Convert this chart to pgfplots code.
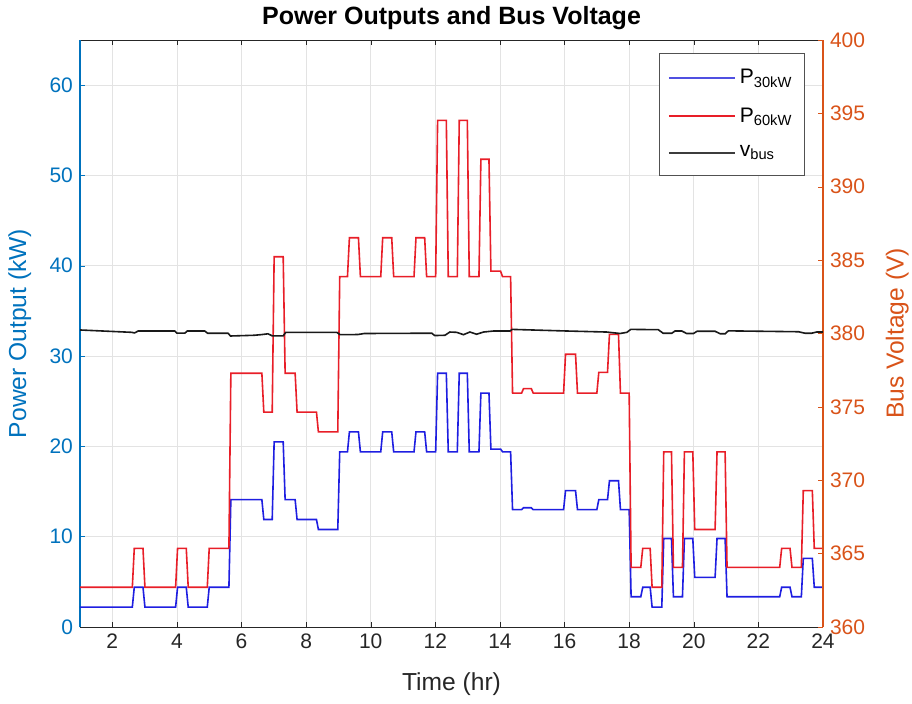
\documentclass[border=0pt]{standalone}
\usepackage{pgfplots}
\pgfplotsset{compat=1.18}
\usepackage{fontspec}
\setmainfont{Liberation Sans}
\definecolor{mblue}{RGB}{0,114,189}
\definecolor{morange}{RGB}{217,83,25}
\definecolor{axgray}{RGB}{38,38,38}
\definecolor{lineblue}{RGB}{30,30,225}
\definecolor{legblue}{RGB}{80,80,225}
\definecolor{linered}{RGB}{232,30,40}
\definecolor{lineblack}{RGB}{25,25,25}
\begin{document}
\begin{tikzpicture}
\useasboundingbox (-40pt,-38pt) rectangle (416pt,313.5pt);
\pgfplotsset{
  every axis title shift=0pt,
  common/.style={
    scale only axis, width=371.5pt, height=293.5pt,
    at={(0,0)}, anchor=south west,
    xmin=1, xmax=24,
    tick align=inside,
    major tick length=2.5pt,
    /pgf/number format/assume math mode=true,
    ticklabel style={font=\fontsize{10.5}{12}\selectfont},
    label style={font=\fontsize{12.3}{14}\selectfont},
  }
}
\begin{axis}[common,
  ymin=0, ymax=65,
  ytick={0,10,...,60},
  xtick={2,4,...,24},
  axis y line*=left,
  xtick pos=both,
  x axis line style={color=axgray},
  y axis line style={color=mblue, line width=0.7pt},
  x tick style={color=axgray},
  y tick style={color=mblue},
  yticklabel style={text=mblue},
  xticklabel style={text=axgray},
  grid=major,
  major grid style={color=black!11, line width=0.4pt},
  xlabel={Time (hr)},
  xlabel style={text=axgray, at={(axis description cs:0.5,0)}, anchor=center, yshift=-28.5pt},
  ylabel={Power Output (kW)},
  ylabel style={text=mblue, at={(axis description cs:-0.081,0.5)}, anchor=center},
  title={\bfseries Power Outputs and Bus Voltage},
  title style={font=\fontsize{12.5}{14}\selectfont, text=black, at={(axis description cs:0.5,1)}, anchor=center, yshift=11pt},
]
\addplot[color=lineblue, line width=0.8pt] coordinates {
(1,2.2)
(2.62,2.2)(2.68,4.4)
(2.95,4.4)(3.01,2.2)
(3.96,2.2)(4.02,4.4)
(4.29,4.4)(4.35,2.2)
(4.94,2.2)(5.00,4.4)
(5.61,4.4)(5.67,14.1)
(6.63,14.1)(6.69,11.9)
(6.95,11.9)(7.01,20.5)
(7.29,20.5)(7.35,14.1)
(7.66,14.1)(7.72,11.9)
(8.32,11.9)(8.38,10.8)
(8.98,10.8)(9.04,19.4)
(9.28,19.4)(9.34,21.6)
(9.62,21.6)(9.68,19.4)
(10.31,19.4)(10.37,21.6)
(10.65,21.6)(10.71,19.4)
(11.34,19.4)(11.40,21.6)
(11.67,21.6)(11.73,19.4)
(12.01,19.4)(12.07,28.1)
(12.34,28.1)(12.40,19.4)
(12.68,19.4)(12.74,28.1)
(12.99,28.1)(13.05,19.4)
(13.35,19.4)(13.41,25.9)
(13.66,25.9)(13.72,19.7)
(14.02,19.7)(14.08,19.4)
(14.33,19.4)(14.39,13.0)
(14.67,13.0)(14.73,13.2)
(14.97,13.2)(15.03,13.0)
(15.97,13.0)(16.03,15.1)
(16.34,15.1)(16.40,13.0)
(17.00,13.0)(17.06,14.1)
(17.33,14.1)(17.39,16.2)
(17.67,16.2)(17.73,13.0)
(18.00,13.0)(18.06,3.35)
(18.36,3.35)(18.42,4.4)
(18.65,4.4)(18.71,2.2)
(19.01,2.2)(19.07,9.8)
(19.31,9.8)(19.37,3.35)
(19.65,3.35)(19.71,9.8)
(19.97,9.8)(20.03,5.5)
(20.66,5.5)(20.72,9.8)
(20.97,9.8)(21.03,3.35)
(22.66,3.35)(22.72,4.4)
(22.98,4.4)(23.04,3.35)
(23.33,3.35)(23.39,7.6)
(23.67,7.6)(23.73,4.4)
(24,4.4)
};
\addplot[color=linered, line width=0.8pt] coordinates {
(1,4.4)
(2.62,4.4)(2.68,8.7)
(2.95,8.7)(3.01,4.4)
(3.96,4.4)(4.02,8.7)
(4.29,8.7)(4.35,4.4)
(4.94,4.4)(5.00,8.7)
(5.61,8.7)(5.67,28.1)
(6.63,28.1)(6.69,23.8)
(6.95,23.8)(7.01,41.0)
(7.29,41.0)(7.35,28.1)
(7.66,28.1)(7.72,23.8)
(8.32,23.8)(8.38,21.6)
(8.98,21.6)(9.04,38.8)
(9.28,38.8)(9.34,43.1)
(9.62,43.1)(9.68,38.8)
(10.31,38.8)(10.37,43.1)
(10.65,43.1)(10.71,38.8)
(11.34,38.8)(11.40,43.1)
(11.67,43.1)(11.73,38.8)
(12.01,38.8)(12.07,56.1)
(12.34,56.1)(12.40,38.8)
(12.68,38.8)(12.74,56.1)
(12.99,56.1)(13.05,38.8)
(13.35,38.8)(13.41,51.8)
(13.66,51.8)(13.72,39.4)
(14.02,39.4)(14.08,38.8)
(14.33,38.8)(14.39,25.9)
(14.67,25.9)(14.73,26.4)
(14.97,26.4)(15.03,25.9)
(15.97,25.9)(16.03,30.2)
(16.34,30.2)(16.40,25.9)
(17.00,25.9)(17.06,28.2)
(17.33,28.2)(17.39,32.4)
(17.67,32.4)(17.73,25.9)
(18.00,25.9)(18.06,6.6)
(18.36,6.6)(18.42,8.7)
(18.65,8.7)(18.71,4.4)
(19.01,4.4)(19.07,19.4)
(19.31,19.4)(19.37,6.6)
(19.65,6.6)(19.71,19.4)
(19.97,19.4)(20.03,10.8)
(20.66,10.8)(20.72,19.4)
(20.97,19.4)(21.03,6.6)
(22.66,6.6)(22.72,8.7)
(22.98,8.7)(23.04,6.6)
(23.33,6.6)(23.39,15.1)
(23.67,15.1)(23.73,8.7)
(24,8.7)
};
\end{axis}
\begin{axis}[common,
  ymin=360, ymax=400,
  ytick={360,365,...,400},
  axis y line*=right,
  axis x line=none,
  y axis line style={color=morange, line width=0.7pt},
  y tick style={color=morange},
  yticklabel style={text=morange},
  ylabel={Bus Voltage (V)},
  ylabel style={text=morange, at={(axis description cs:1.1,0.5)}, anchor=center},
  legend style={at={(axis description cs:0.9758,0.978)}, anchor=north east,
    draw=axgray!80, line width=0.6pt, fill=white,
    font=\fontsize{10.5}{12}\selectfont,
    row sep=6.3pt, inner xsep=4pt, inner ysep=6pt},
  legend cell align=left,
  legend entries={P\textsubscript{30kW}, P\textsubscript{60kW}, v\textsubscript{bus}},
]
\addlegendimage{legend image code/.code={\draw[color=legblue, line width=1pt] (0pt,0pt) -- (33pt,0pt);}}
\addlegendimage{legend image code/.code={\draw[color=linered, line width=1pt] (0pt,0.1pt) -- (33pt,0.1pt);}}
\addplot[color=lineblack, line width=0.8pt,
  legend image code/.code={\draw[color=lineblack!85, line width=1pt] (0pt,0pt) -- (33pt,0pt);}] coordinates {
(1.0,380.24)(2.6,380.08)(2.69,380.04)(2.8,380.17)(3.93,380.17)(4.0,380.03)(4.25,380.03)(4.32,380.17)(4.86,380.17)(4.95,380.02)(5.58,380.02)(5.66,379.83)(6.4,379.88)(6.6,379.92)(6.82,379.98)(6.95,379.84)(7.29,379.84)(7.37,380.08)(8.95,380.08)(9.05,379.92)(9.6,379.93)(9.8,380.0)(11.89,380.02)(11.98,379.86)(12.3,379.88)(12.45,380.1)(12.66,380.08)(12.87,379.92)(13.07,380.1)(13.28,379.95)(13.49,380.1)(13.8,380.17)(14.31,380.17)(14.38,380.28)(16.07,380.17)(17.3,380.1)(17.72,380.0)(17.93,380.08)(18.05,380.28)(18.9,380.26)(19.05,380.02)(19.32,380.02)(19.42,380.17)(19.63,380.17)(19.78,380.0)(19.99,380.0)(20.1,380.15)(20.66,380.15)(20.82,379.98)(20.97,379.98)(21.07,380.18)(23.24,380.12)(23.44,380.02)(23.65,380.02)(23.8,380.1)(24,380.1)
};
\end{axis}
\end{tikzpicture}
\end{document}
